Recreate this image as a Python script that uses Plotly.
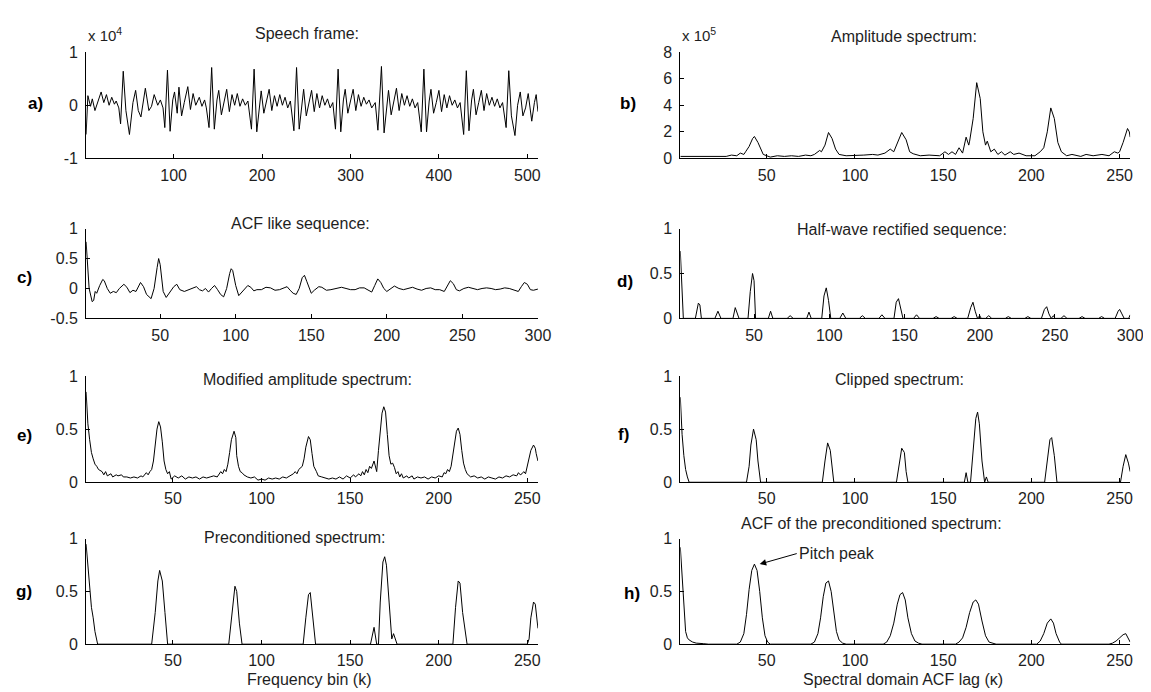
import plotly.graph_objects as go

W, H = 1151, 692

# ---------------- data ----------------
# a) speech frame, values in units of 1e4
speech_x = [1, 3, 6, 8, 11, 14, 18, 21, 24, 27, 30, 33, 35, 38, 40,
            43, 46, 50, 54, 57, 60, 63, 68, 72, 75, 78, 82, 85, 88, 90,
            93, 96, 99, 101, 104, 106, 109, 112, 116, 119, 122, 125, 129, 132, 135, 137, 140,
            143, 146, 149, 151, 154, 157, 160, 163, 166, 169, 172, 175, 178, 181, 184, 188,
            191, 194, 197, 199, 202, 205, 208, 211, 214, 217, 220, 223, 226, 229, 232, 236,
            239, 242, 245, 247, 250, 253, 256, 259, 262, 265, 268, 271, 274, 277, 280, 283,
            286, 289, 292, 294, 297, 300, 303, 306, 309, 312, 315, 318, 321, 324, 328, 331,
            335, 338, 341, 343, 346, 349, 352, 355, 358, 361, 364, 367, 370, 373, 376, 380,
            383, 386, 389, 391, 394, 397, 400, 403, 406, 409, 412, 415, 418, 421, 424, 428,
            431, 434, 437, 439, 442, 445, 448, 451, 454, 457, 460, 463, 466, 469, 472, 476,
            479, 482, 486, 489, 492, 495, 498, 501, 505, 508, 510, 512]
speech_y = [-0.55, 0.18, -0.02, 0.12, -0.1, 0.05, 0.25, 0.05, 0.2, 0.0, 0.15, 0.02, 0.08, -0.05, -0.35,
            0.64, -0.1, -0.55, 0.05, 0.28, -0.1, -0.22, 0.32, -0.1, -0.02, 0.2, 0.0, 0.1, -0.05, -0.42,
            0.66, -0.49, 0.1, 0.25, -0.15, 0.34, -0.2, 0.05, 0.35, -0.08, 0.22, 0.0, 0.15, -0.02, 0.1, -0.05, -0.42,
            0.71, -0.45, 0.1, 0.28, -0.18, 0.05, 0.3, -0.12, 0.2, 0.0, 0.22, -0.02, 0.12, 0.0, 0.08, -0.45,
            0.68, -0.5, 0.05, 0.27, -0.15, 0.1, 0.3, -0.1, 0.18, -0.02, 0.2, 0.0, 0.15, -0.05, 0.08, -0.48,
            0.71, -0.45, 0.08, 0.3, -0.2, 0.05, 0.28, -0.12, 0.22, -0.05, 0.18, 0.0, 0.12, -0.05, 0.05, -0.45,
            0.68, -0.5, 0.1, 0.3, -0.15, 0.08, 0.3, -0.1, 0.2, -0.02, 0.15, 0.02, 0.1, -0.05, 0.05, -0.47,
            0.73, -0.52, 0.05, 0.28, -0.18, 0.05, 0.32, -0.1, 0.22, 0.0, 0.18, -0.02, 0.12, -0.05, 0.05, -0.5,
            0.68, -0.5, 0.08, 0.3, -0.15, 0.05, 0.28, -0.12, 0.2, -0.05, 0.18, 0.0, 0.1, -0.05, 0.05, -0.55,
            0.65, -0.48, 0.1, 0.3, -0.18, 0.05, 0.28, -0.1, 0.22, 0.0, 0.15, -0.02, 0.12, -0.05, 0.05, -0.42,
            0.65, -0.2, -0.57, 0.0, 0.25, -0.2, -0.05, 0.22, -0.3, 0.05, 0.2, -0.12]

# b) amplitude spectrum, values in units of 1e5
amp_x = [1, 10, 18, 20, 24, 27, 30, 33, 35, 37, 38, 40, 42, 43, 45, 47, 48, 50, 52, 56, 60, 64, 68,
         72, 75, 77, 80, 81, 83, 85, 87, 89, 91, 95, 100, 105, 110, 113, 117, 120, 122, 124, 126.5,
         129, 131, 133, 137, 142, 148, 151, 153, 155, 157, 159, 161, 163, 164.5, 165, 167, 169, 171,
         172.5, 174, 175, 177, 179, 181, 183, 185, 188, 190, 193, 197, 202, 205, 207, 209, 211, 213,
         215, 217, 220, 223, 228, 231, 235, 240, 244, 247, 249, 250, 252, 254.5, 255.5, 256]
amp_y = [0.15, 0.15, 0.2, 0.15, 0.2, 0.15, 0.25, 0.2, 0.4, 0.3, 0.5, 0.9, 1.5, 1.65, 1.2, 0.5, 0.3, 0.2,
         0.1, 0.2, 0.15, 0.2, 0.15, 0.25, 0.2, 0.3, 0.6, 0.5, 1.0, 1.95, 1.5, 0.7, 0.3, 0.2, 0.2, 0.25,
         0.3, 0.25, 0.4, 0.7, 0.5, 1.2, 1.95, 1.4, 0.5, 0.35, 0.2, 0.25, 0.2, 0.5, 0.3, 0.5, 0.3, 0.8,
         0.4, 1.6, 1.0, 1.3, 3.0, 5.7, 4.5, 2.0, 1.0, 1.3, 0.5, 0.7, 0.3, 0.5, 0.25, 0.5, 0.3, 0.4, 0.2,
         0.2, 0.5, 0.8, 2.0, 3.8, 3.0, 1.2, 0.5, 0.2, 0.3, 0.15, 0.3, 0.2, 0.3, 0.2, 0.5, 0.4, 0.5, 1.2,
         2.25, 2.0, 1.6]

# c) ACF like sequence
acf_x = [1, 2, 3, 5, 6, 7, 8, 10, 12, 13, 15, 17, 19, 21, 23, 26, 28, 30, 32, 34, 37, 39, 41, 44,
         46, 48, 49, 50, 52, 54, 56, 59, 61, 63, 66, 69, 72, 74, 76, 78, 80, 82, 84, 86, 88, 90, 92,
         94, 96, 97, 98, 100, 102, 104, 106, 108, 110, 112, 114, 117, 120, 123, 126, 129, 132, 134,
         136, 138, 140, 142, 144, 145.5, 147, 149, 150, 152, 155, 157, 160, 163, 166, 170, 173, 176,
         179, 182, 185, 188, 190, 192, 194, 196, 198, 200, 203, 205, 208, 211, 214, 217, 220, 223,
         226, 229, 232, 235, 238, 240, 242, 244, 246, 248, 251, 254, 257, 260, 263, 266, 269, 272,
         275, 278, 281, 284, 287, 289, 291, 293, 295, 297, 300]
acf_y = [0.78, 0.3, 0.0, -0.22, -0.2, -0.05, -0.08, 0.05, 0.15, 0.13, 0.0, -0.08, -0.05, -0.07, 0.0,
         0.07, 0.02, -0.07, -0.03, -0.05, 0.1, 0.03, -0.1, -0.17, 0.0, 0.35, 0.5, 0.4, -0.05, -0.15,
         -0.08, 0.03, 0.07, -0.02, -0.05, -0.02, 0.02, 0.03, -0.02, -0.04, 0.0, -0.06, 0.0, 0.05, -0.02,
         -0.1, -0.14, 0.0, 0.25, 0.33, 0.3, 0.05, -0.12, -0.06, 0.0, 0.05, 0.02, -0.04, -0.02, -0.02,
         0.02, 0.01, -0.03, -0.02, 0.01, 0.03, -0.03, -0.08, -0.1, 0.0, 0.18, 0.22, 0.12, -0.03, -0.08,
         -0.03, 0.03, 0.02, -0.03, -0.02, 0.0, 0.02, 0.0, -0.02, -0.02, 0.01, 0.01, -0.03, -0.06, 0.05,
         0.16, 0.1, 0.0, -0.05, 0.0, 0.04, 0.0, -0.02, 0.0, 0.02, -0.01, -0.03, 0.0, 0.01, -0.02, -0.02,
         -0.05, 0.05, 0.13, 0.08, -0.02, -0.04, 0.0, 0.02, 0.0, -0.02, 0.0, 0.01, 0.0, -0.02, -0.01,
         0.01, 0.0, -0.02, -0.05, 0.03, 0.1, 0.07, -0.02, -0.03, -0.01]

# d) half-wave rectified sequence
hw_x = [1, 2, 3, 11, 12, 13, 14, 15, 24, 26, 28, 36, 37.5, 39, 40, 46, 47.5, 49, 50, 51, 59.5, 61,
        62.5, 72, 74, 76, 85, 86.5, 88, 95, 96.5, 98, 99.5, 101, 107, 109, 111, 120, 122, 124, 133,
        135, 137, 143, 144.5, 146, 147.5, 149, 156, 158, 160, 169, 171, 173, 181, 183, 185, 192, 194,
        195.5, 197, 198.5, 200, 201, 204, 206, 208, 217, 219, 221, 230, 232, 234, 241, 243, 244.5,
        246, 247.5, 249, 250, 254, 256, 258, 266, 268, 270, 279, 281, 283, 290, 292, 293, 294.5, 296,
        299, 300]
hw_y = [0.75, 0.35, 0.0, 0.0, 0.1, 0.17, 0.15, 0.0, 0.0, 0.08, 0.0, 0.0, 0.12, 0.05, 0.0, 0.0, 0.3,
        0.5, 0.42, 0.0, 0.0, 0.08, 0.0, 0.0, 0.03, 0.0, 0.0, 0.07, 0.0, 0.0, 0.25, 0.34, 0.2, 0.0,
        0.0, 0.06, 0.0, 0.0, 0.03, 0.0, 0.0, 0.04, 0.0, 0.0, 0.18, 0.22, 0.1, 0.0, 0.0, 0.04, 0.0,
        0.0, 0.02, 0.0, 0.0, 0.02, 0.0, 0.0, 0.12, 0.18, 0.08, 0.0, 0.03, 0.0, 0.0, 0.03, 0.0, 0.0,
        0.02, 0.0, 0.0, 0.02, 0.0, 0.0, 0.1, 0.13, 0.05, 0.0, 0.03, 0.0, 0.0, 0.03, 0.0, 0.0, 0.02,
        0.0, 0.0, 0.02, 0.0, 0.0, 0.08, 0.1, 0.05, 0.0, 0.0, 0.04]

# e) modified amplitude spectrum
mod_x = [1, 2, 3, 4, 5, 6, 7, 8, 10, 11, 12, 13, 15, 16, 18, 19, 21, 22, 24, 26, 28, 30, 32, 33, 35,
         36, 37, 38, 39, 40, 41, 42, 43, 44, 45, 46, 47, 48, 49, 51, 53, 55, 57, 59, 61, 63, 65, 67,
         69, 71, 73, 75, 76, 77, 78, 79, 80, 81, 82, 83, 84.5, 85.5, 86, 87, 88, 89, 90, 92, 94, 96,
         98, 100, 102, 104, 106, 108, 110, 112, 114, 116, 118, 119, 120, 121, 123, 124, 125, 126.5,
         127.5, 128.5, 129.5, 131, 132, 134, 136, 138, 140, 142, 144, 146, 148, 150, 152, 153, 155,
         156, 157, 158, 159, 160, 161, 162, 163.5, 164.5, 165, 166, 167, 168, 169, 170, 171, 172,
         173, 174, 175, 176, 177, 178, 179, 180, 182, 183, 185, 186, 188, 190, 192, 194, 196, 198,
         200, 202, 203, 204, 205, 206, 207, 208, 209, 210, 211, 212, 213, 214, 215, 216, 218, 220,
         222, 224, 226, 228, 230, 232, 234, 236, 238, 240, 242, 244, 245, 246, 247, 248, 249, 250,
         251, 252, 253.5, 254.5, 255, 256]
mod_y = [0.85, 0.55, 0.4, 0.28, 0.22, 0.17, 0.15, 0.12, 0.1, 0.07, 0.1, 0.06, 0.08, 0.05, 0.07, 0.06,
         0.07, 0.05, 0.05, 0.04, 0.05, 0.04, 0.06, 0.05, 0.09, 0.07, 0.1, 0.12, 0.2, 0.35, 0.5, 0.57,
         0.52, 0.38, 0.2, 0.12, 0.08, 0.1, 0.03, 0.06, 0.04, 0.06, 0.03, 0.05, 0.04, 0.05, 0.03, 0.05,
         0.04, 0.05, 0.06, 0.05, 0.08, 0.1, 0.08, 0.12, 0.1, 0.17, 0.28, 0.4, 0.48, 0.42, 0.25, 0.15,
         0.1, 0.09, 0.07, 0.05, 0.04, 0.05, 0.02, 0.03, 0.02, 0.04, 0.03, 0.04, 0.03, 0.05, 0.04,
         0.06, 0.08, 0.1, 0.08, 0.12, 0.15, 0.22, 0.33, 0.43, 0.4, 0.27, 0.15, 0.1, 0.06, 0.05, 0.04,
         0.03, 0.04, 0.03, 0.05, 0.03, 0.06, 0.04, 0.07, 0.05, 0.08, 0.06, 0.1, 0.07, 0.12, 0.09,
         0.15, 0.13, 0.2, 0.12, 0.1, 0.3, 0.5, 0.65, 0.71, 0.66, 0.45, 0.25, 0.17, 0.18, 0.14, 0.08,
         0.1, 0.05, 0.08, 0.04, 0.06, 0.04, 0.06, 0.03, 0.05, 0.04, 0.05, 0.03, 0.05, 0.04, 0.06,
         0.05, 0.09, 0.08, 0.12, 0.1, 0.15, 0.25, 0.38, 0.48, 0.51, 0.45, 0.3, 0.18, 0.12, 0.08, 0.05,
         0.06, 0.04, 0.05, 0.03, 0.05, 0.04, 0.03, 0.05, 0.04, 0.06, 0.05, 0.07, 0.06, 0.09, 0.07,
         0.08, 0.1, 0.08, 0.15, 0.22, 0.3, 0.35, 0.32, 0.27, 0.2]

# f) clipped spectrum
clip_x = [1, 2, 3, 4, 5, 6, 38.5, 40, 41, 42.5, 44, 45, 46.5, 81.5, 83, 84.5, 86, 87, 88, 123.5,
          125, 126.5, 128, 129, 130, 162, 163, 164, 165.5, 167, 168.5, 169.5, 170.5, 172, 173.5,
          174.5, 175.5, 207.5, 209, 210.5, 211.5, 213, 214.5, 250.5, 252, 253.5, 255, 256]
clip_y = [0.8, 0.45, 0.25, 0.12, 0.05, 0.0, 0.0, 0.15, 0.35, 0.5, 0.4, 0.2, 0.0, 0.0, 0.2, 0.37, 0.3,
          0.12, 0.0, 0.0, 0.15, 0.32, 0.28, 0.1, 0.0, 0.0, 0.09, 0.0, 0.0, 0.3, 0.6, 0.66, 0.55, 0.2,
          0.0, 0.05, 0.0, 0.0, 0.2, 0.4, 0.42, 0.25, 0.0, 0.0, 0.15, 0.26, 0.18, 0.1]

# g) preconditioned spectrum
pre_x = [1, 2, 3, 4, 5, 6, 7.5, 38, 40, 41.5, 42.5, 44, 45.5, 47, 81.5, 83.5, 85, 86, 87.5, 89,
         123.5, 125, 126.5, 127.5, 129, 130.5, 161.5, 163.5, 165, 166, 167, 168.5, 169.5, 170.5,
         172, 173.5, 174.5, 175.5, 176.5, 208, 209.5, 211, 212, 213.5, 216, 250, 251, 252, 253.5,
         254.5, 255.5, 256]
pre_y = [0.95, 0.75, 0.5, 0.35, 0.25, 0.12, 0.0, 0.0, 0.3, 0.6, 0.7, 0.6, 0.3, 0.0, 0.0, 0.35, 0.55,
         0.5, 0.2, 0.0, 0.0, 0.25, 0.47, 0.49, 0.25, 0.0, 0.0, 0.16, 0.0, 0.0, 0.4, 0.78, 0.83, 0.75,
         0.4, 0.05, 0.1, 0.05, 0.0, 0.0, 0.35, 0.6, 0.58, 0.3, 0.0, 0.0, 0.05, 0.25, 0.4, 0.38, 0.25,
         0.15]

# h) ACF of the preconditioned spectrum
pacf_x = [1, 2, 3, 4, 5, 6, 8, 10, 14, 17, 33, 35, 37, 38.5, 40, 41.5, 43, 44.5, 46, 47.5, 49, 50.5,
          52, 75, 77, 79, 80.5, 82, 83.5, 85, 86.5, 88, 89.5, 91, 93, 95, 116, 118, 120, 122, 124,
          125.5, 127, 128.5, 130, 132, 134, 136, 138, 157, 159, 161, 163, 165, 167, 168.5, 170, 172,
          174, 176, 178, 180, 203, 205, 207, 209, 211, 212.5, 214, 216, 217, 244, 246, 248, 250, 252,
          253.5, 255, 256]
pacf_y = [0.92, 0.65, 0.3, 0.12, 0.06, 0.04, 0.02, 0.01, 0.005, 0.0, 0.0, 0.02, 0.1, 0.28, 0.52, 0.7,
          0.76, 0.7, 0.5, 0.25, 0.08, 0.02, 0.0, 0.0, 0.02, 0.1, 0.25, 0.45, 0.58, 0.6, 0.5, 0.3, 0.12,
          0.04, 0.01, 0.0, 0.0, 0.02, 0.08, 0.2, 0.38, 0.47, 0.49, 0.42, 0.25, 0.1, 0.03, 0.01, 0.0,
          0.0, 0.02, 0.06, 0.16, 0.3, 0.4, 0.42, 0.38, 0.22, 0.08, 0.02, 0.01, 0.0, 0.0, 0.03, 0.1,
          0.2, 0.24, 0.2, 0.1, 0.02, 0.0, 0.0, 0.01, 0.03, 0.06, 0.09, 0.1, 0.05, 0.02]

titles = ["Speech frame:", "Amplitude spectrum:", "ACF like sequence:",
          "Half-wave rectified sequence:", "Modified amplitude spectrum:",
          "Clipped spectrum:", "Preconditioned spectrum:",
          "ACF of the preconditioned spectrum:"]
panel_labels = ["a)", "b)", "c)", "d)", "e)", "f)", "g)", "h)"]
x_ticks_512 = [100, 200, 300, 400, 500]
x_ticks_256 = [50, 100, 150, 200, 250]
x_ticks_300 = [50, 100, 150, 200, 250, 300]
y_ticks_a = [-1, 0, 1]
y_ticks_b = [0, 2, 4, 6, 8]
y_ticks_c = [-0.5, 0, 0.5, 1]
y_ticks_01 = [0, 0.5, 1]
x_title_left = "Frequency bin (k)"
x_title_right = "Spectral domain ACF lag (κ)"

# ---------------- layout geometry (pixels) ----------------
col_px = [(79, 536), (680, 1135)]
row_px = [(37, 146), (218, 310), (369, 478), (536, 644)]

FONT = "Liberation Sans, Arial, Helvetica, sans-serif"
TXT = "#1e1e1e"

series = [(speech_x, speech_y), (amp_x, amp_y), (acf_x, acf_y), (hw_x, hw_y),
          (mod_x, mod_y), (clip_x, clip_y), (pre_x, pre_y), (pacf_x, pacf_y)]
xcfg = [([1, 512], x_ticks_512), ([1, 256], x_ticks_256), ([1, 300], x_ticks_300),
        ([1, 300], x_ticks_300), ([1, 256], x_ticks_256), ([1, 256], x_ticks_256),
        ([1, 256], x_ticks_256), ([1, 256], x_ticks_256)]
ycfg = [([-1, 1], y_ticks_a), ([0, 8], y_ticks_b), ([-0.5, 1], y_ticks_c), ([0, 1], y_ticks_01),
        ([0, 1], y_ticks_01), ([0, 1], y_ticks_01), ([0, 1], y_ticks_01), ([0, 1], y_ticks_01)]


def fmt(v):
    s = ("%g" % v)
    return s


fig = go.Figure()
layout = dict(width=W, height=H, margin=dict(l=0, r=0, t=0, b=0), autosize=False,
              paper_bgcolor="white", plot_bgcolor="white", showlegend=False,
              font=dict(family=FONT, size=16, color=TXT))

for i, ((xs, ys), (xr, xt), (yr, yt)) in enumerate(zip(series, xcfg, ycfg)):
    r, c = divmod(i, 2)
    x0, x1 = col_px[c]
    y0, y1 = row_px[r]
    n = "" if i == 0 else str(i + 1)
    fig.add_trace(go.Scatter(x=xs, y=ys, mode="lines", xaxis="x" + n, yaxis="y" + n,
                             line=dict(color="black", width=1), hoverinfo="skip"))
    common = dict(showline=True, linecolor="black", linewidth=1, mirror=False,
                  ticks="inside", ticklen=4, tickwidth=1, tickcolor="black",
                  showgrid=False, zeroline=False, fixedrange=True,
                  tickfont=dict(family=FONT, size=16, color=TXT))
    layout["xaxis" + n] = dict(domain=[x0 / W, x1 / W], range=xr, anchor="y" + n,
                               tickvals=xt, ticktext=[fmt(v) for v in xt],
                               ticklabelstandoff=2, **common)
    layout["yaxis" + n] = dict(domain=[1 - y1 / H, 1 - y0 / H], range=yr, anchor="x" + n,
                               tickvals=yt, ticktext=[fmt(v) for v in yt],
                               ticklabelstandoff=4, **common)

ann = []
title_pos = [(302, 18), (906, 21), (296, 213), (904, 219), (303, 373), (902, 373),
             (290, 535), (873, 520)]
for t, (px, py) in zip(titles, title_pos):
    ann.append(dict(text=t, x=px / W, y=1 - py / H, xref="paper", yref="paper",
                    xanchor="center", yanchor="middle", showarrow=False,
                    font=dict(family=FONT, size=16, color=TXT)))
label_pos = [(28, 90), (627, 90), (17, 268), (624, 272), (17, 430), (623, 429),
             (16, 590), (631, 592)]
for t, (px, py) in zip(panel_labels, label_pos):
    ann.append(dict(text="<b>%s</b>" % t, x=px / W, y=1 - py / H, xref="paper", yref="paper",
                    xanchor="center", yanchor="middle", showarrow=False,
                    font=dict(family=FONT, size=17, color="black")))
# exponent labels
ann.append(dict(text="x 10<sup>4</sup>", x=79 / W, y=1 - 19 / H, xref="paper", yref="paper",
                xanchor="left", yanchor="middle", showarrow=False,
                font=dict(family=FONT, size=15, color=TXT)))
ann.append(dict(text="x 10<sup>5</sup>", x=680 / W, y=1 - 19 / H, xref="paper", yref="paper",
                xanchor="left", yanchor="middle", showarrow=False,
                font=dict(family=FONT, size=15, color=TXT)))
# x axis titles
ann.append(dict(text=x_title_left, x=305 / W, y=1 - 680 / H, xref="paper", yref="paper",
                xanchor="center", yanchor="middle", showarrow=False,
                font=dict(family=FONT, size=16, color=TXT)))
ann.append(dict(text=x_title_right, x=905 / W, y=1 - 680 / H, xref="paper", yref="paper",
                xanchor="center", yanchor="middle", showarrow=False,
                font=dict(family=FONT, size=16, color=TXT)))
# pitch peak annotation
ann.append(dict(text="Pitch peak", x=46, y=0.76, xref="x8", yref="y8",
                ax=67, ay=0.86, axref="x8", ayref="y8", xanchor="left", yanchor="middle",
                showarrow=True, arrowhead=2, arrowsize=1.3, arrowwidth=1, arrowcolor="black",
                standoff=0, startstandoff=0,
                font=dict(family=FONT, size=16, color=TXT)))
layout["annotations"] = ann
fig.update_layout(**layout)
fig.write_html("out.html")
